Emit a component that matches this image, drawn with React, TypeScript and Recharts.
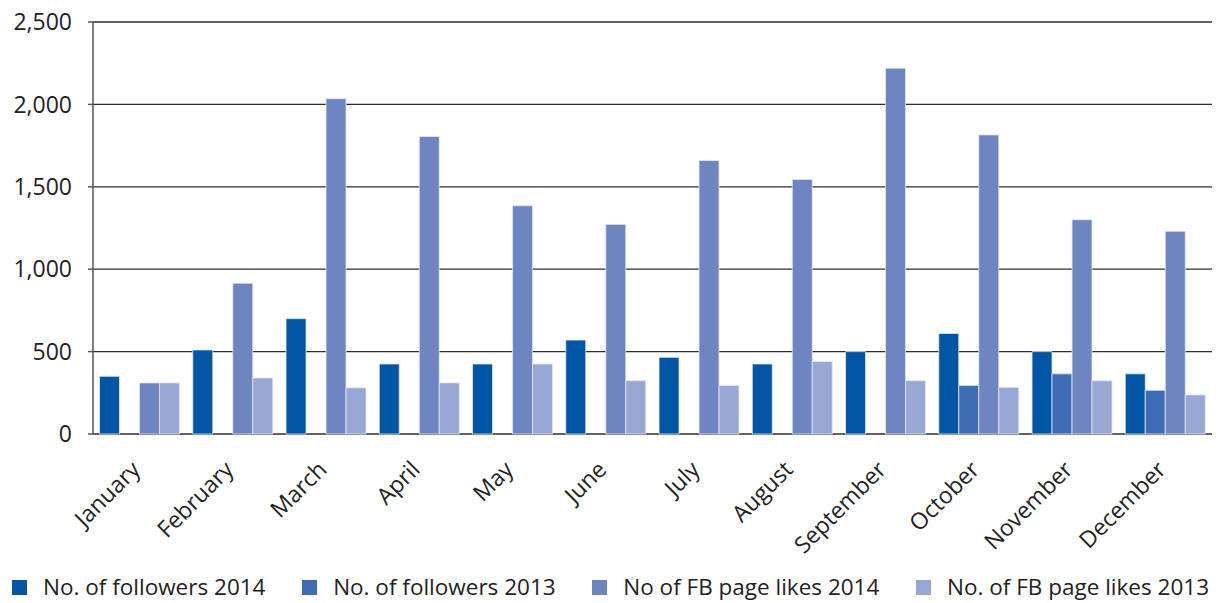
import { BarChart, Bar, XAxis, YAxis, CartesianGrid, Legend } from "recharts";

const months = [
  "January", "February", "March", "April", "May", "June",
  "July", "August", "September", "October", "November", "December",
];
const followers2014 = [350, 510, 700, 425, 425, 570, 465, 425, 500, 610, 500, 365];
const followers2013 = [null, null, null, null, null, null, null, null, null, 295, 365, 265];
const fbLikes2014 = [310, 915, 2035, 1805, 1385, 1272, 1660, 1545, 2220, 1815, 1300, 1230];
const fbLikes2013 = [310, 340, 280, 310, 425, 323, 295, 440, 323, 283, 323, 237];
const yTicks = [0, 500, 1000, 1500, 2000, 2500];
const boundaryTicks = [0, 1, 2, 3, 4, 5, 6, 7, 8, 9, 10, 11, 12];

const series = [
  { key: "f14", name: "No. of followers 2014", color: "#0055a4" },
  { key: "f13", name: "No. of followers 2013", color: "#3d6bb4" },
  { key: "l14", name: "No of FB page likes 2014", color: "#6e85c2" },
  { key: "l13", name: "No. of FB page likes 2013", color: "#98a7d4" },
];

const rows = months.map((m, i) => ({
  month: m,
  f14: followers2014[i],
  f13: followers2013[i],
  l14: fbLikes2014[i],
  l13: fbLikes2013[i],
}));

const FONT = "'Open Sans', sans-serif";

function MonthTick(props: any) {
  const { x, y, payload } = props;
  return (
    <g transform={`translate(${x + 2},${y + 29})`}>
      <text
        textAnchor="end"
        transform="rotate(-45)"
        fontFamily={FONT}
        fontSize={23}
        fill="#222"
      >
        {payload.value}
      </text>
    </g>
  );
}

function LegendRow() {
  return (
    <div
      style={{
        display: "flex",
        justifyContent: "space-between",
        padding: "0 10px 0 12px",
        fontFamily: FONT,
        fontSize: 22.5,
        color: "#222",
        lineHeight: "28px",
      }}
    >
      {series.map((s) => (
        <div key={s.key} style={{ display: "flex", alignItems: "center" }}>
          <span
            style={{ width: 15, height: 15, background: s.color, marginRight: 16, display: "inline-block" }}
          />
          <span>{s.name}</span>
        </div>
      ))}
    </div>
  );
}

export default function App() {
  return (
    <div style={{ position: "absolute", left: 0, top: 0, background: "#fff" }}>
      <BarChart
        width={1219}
        height={603}
        data={rows}
        margin={{ top: 22, right: 7, bottom: 2, left: 0 }}
        barCategoryGap="7%"
        barGap={0}
      >
        <CartesianGrid vertical={false} stroke="#2e2e2e" strokeWidth={1.3} />
        <XAxis
          xAxisId="edges"
          type="number"
          domain={[0, 12]}
          ticks={boundaryTicks}
          tick={false}
          height={0}
          tickSize={8}
          stroke="#555"
          strokeWidth={1.5}
        />
        <XAxis
          dataKey="month"
          tick={<MonthTick />}
          tickLine={false}
          axisLine={false}
          interval={0}
          height={139}
        />
        <YAxis
          domain={[0, 2500]}
          ticks={yTicks}
          width={93}
          tickSize={5}
          tickMargin={16}
          stroke="#555"
          strokeWidth={1.5}
          tick={{ fontFamily: FONT, fontSize: 23, fill: "#222" }}
          tickFormatter={(v: number) => v.toLocaleString("en-US")}
        />
        {series.map((s) => (
          <Bar
            key={s.key}
            dataKey={s.key}
            name={s.name}
            fill={s.color}
            stroke="#e4e9f4"
            strokeWidth={0.8}
            isAnimationActive={false}
          />
        ))}
        <Legend verticalAlign="bottom" content={<LegendRow />} wrapperStyle={{ left: 0, width: 1219 }} />
      </BarChart>
    </div>
  );
}
